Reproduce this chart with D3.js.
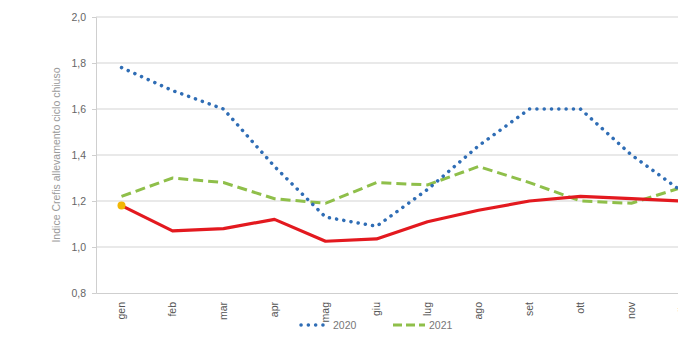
<!DOCTYPE html>
<html><head><meta charset="utf-8">
<script src="https://cdn.jsdelivr.net/npm/d3@7"></script>
<style>
html,body{margin:0;padding:0;background:#fff;overflow:hidden;width:678px;height:340px}
text{font-family:"Liberation Sans",Arial,sans-serif;fill:#595959}
</style></head>
<body>
<svg id="c" width="740" height="340"></svg>
<script>
const months = ["gen","feb","mar","apr","mag","giu","lug","ago","set","ott","nov","dic"];
const s2020 = [1.78,1.68,1.60,1.35,1.13,1.09,1.25,1.44,1.60,1.60,1.40,1.24];
const s2021 = [1.22,1.30,1.28,1.21,1.19,1.28,1.27,1.35,1.28,1.20,1.19,1.26];
const s2022 = [1.18,1.07,1.08,1.12,1.025,1.035,1.11,1.16,1.20,1.22,1.21,1.20];
const s2023 = [1.18];
const yTicks = [0.8,1.0,1.2,1.4,1.6,1.8,2.0];
const yTitle = "Indice Crefis allevamento ciclo chiuso";

(function(){
const svg = d3.select("#c");
const mLeft = 96, mTop = 17, mBottom = 293;
const x = d3.scaleBand().domain(months).range([mLeft, mLeft + 12*51]);
const y = d3.scaleLinear().domain([0.8,2.0]).range([mBottom, mTop]);
const fmt = d => d.toFixed(1).replace(".", ",");

svg.append("g").selectAll("line").data(yTicks.filter(d=>d>0.8)).join("line")
  .attr("x1", mLeft).attr("x2", 740).attr("y1", d=>y(d)).attr("y2", d=>y(d))
  .attr("stroke", "#d4d4d4").attr("stroke-width", 1.2);

const ya = svg.append("g").attr("transform", `translate(${mLeft},0)`)
  .call(d3.axisLeft(y).tickValues(yTicks).tickFormat(fmt).tickSize(4).tickPadding(6));
ya.select(".domain").attr("stroke", "#cfcfcf");
ya.selectAll(".tick line").attr("stroke", "#cfcfcf");
ya.selectAll("text").style("font-size", "10.5px").style("fill", "#666");

const xa = svg.append("g").attr("transform", `translate(0,${mBottom})`)
  .call(d3.axisBottom(x).tickSize(0).tickPadding(0));
xa.select(".domain").attr("stroke", "#cfcfcf").attr("stroke-width", 1.2);
xa.selectAll("text").style("font-size", "10.5px").style("fill", "#555")
  .attr("text-anchor", "end").attr("dy", "0.35em")
  .attr("transform", "translate(0,9) rotate(-90)").attr("x", 0).attr("y", 0);

svg.append("text").attr("transform", `translate(60,155) rotate(-90)`)
  .attr("text-anchor", "middle").style("font-size", "10.5px").style("fill", "#9a9a9a")
  .text(yTitle);

const xc = m => x(m) + x.bandwidth()/2;
const line = d3.line().x((d,i)=>xc(months[i])).y(d=>y(d));

svg.append("path").datum(s2021).attr("d", line).attr("fill","none")
  .attr("stroke", "#8fbf4a").attr("stroke-width", 3).attr("stroke-dasharray", "10 5");
svg.append("path").datum(s2020).attr("d", line).attr("fill","none")
  .attr("stroke", "#2f6db5").attr("stroke-width", 3.5).attr("stroke-linecap","round")
  .attr("stroke-dasharray", "0.1 7.2");
svg.append("path").datum(s2022).attr("d", line).attr("fill","none")
  .attr("stroke", "#e3191f").attr("stroke-width", 3.2).attr("stroke-linejoin","round");
svg.append("g").selectAll("circle").data(s2023).join("circle")
  .attr("cx", (d,i)=>xc(months[i])).attr("cy", d=>y(d)).attr("r", 4).attr("fill", "#f2b705");

const lg = svg.append("g");
const legendItems = [
  {name:"2020", color:"#2f6db5", dash:"0.1 7.2", cap:"round", w:3.5, x0:301, x1:329},
  {name:"2021", color:"#8fbf4a", dash:"9 4", cap:"butt", w:3, x0:393, x1:425}
];
legendItems.forEach(it => {
  lg.append("line").attr("x1", it.x0).attr("x2", it.x1).attr("y1", 325).attr("y2", 325)
    .attr("stroke", it.color).attr("stroke-width", it.w).attr("stroke-dasharray", it.dash)
    .attr("stroke-linecap", it.cap);
  lg.append("text").attr("x", it.x1 + 4).attr("y", 325).attr("dy","0.35em")
    .style("font-size", "10.5px").style("fill", "#777").text(it.name);
});
})();
</script>
</body></html>
